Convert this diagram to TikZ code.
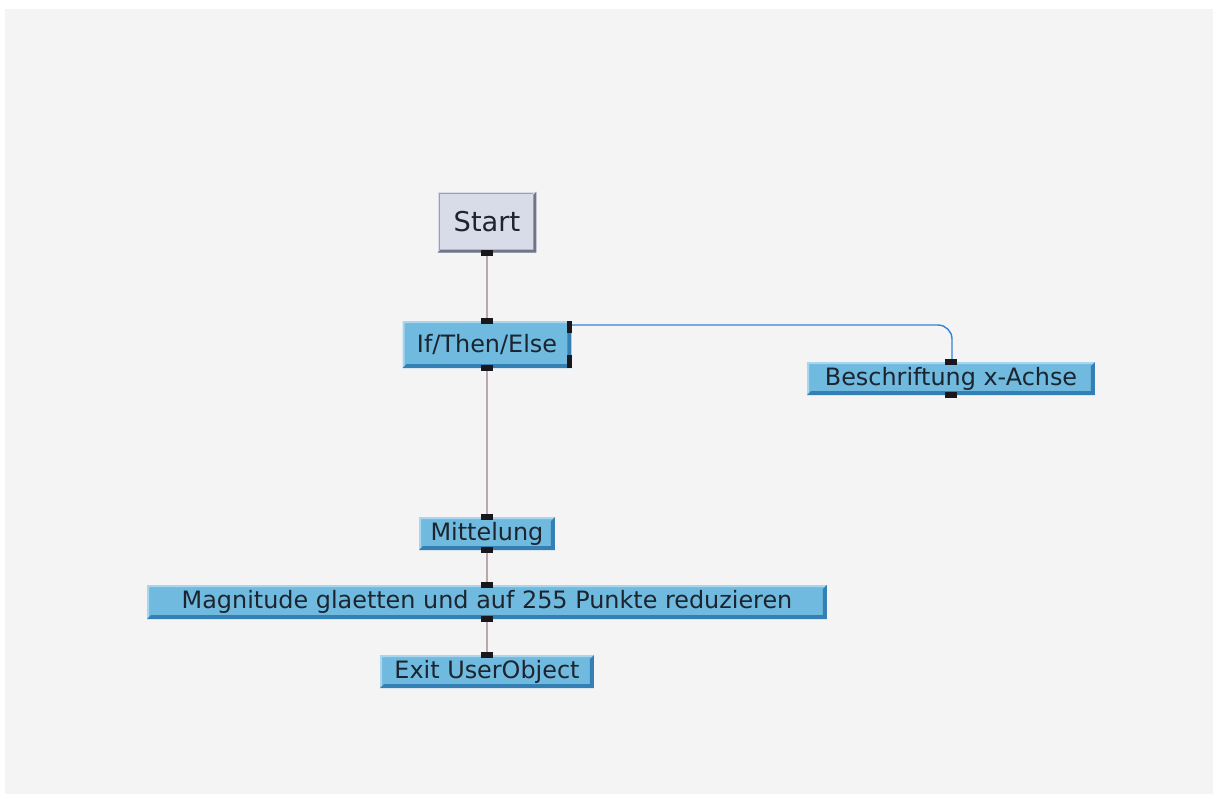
\documentclass[tikz,border=0pt]{standalone}
\usepackage{fontspec}
\usetikzlibrary{calc}
\newfontfamily\veefont{DejaVu Sans}

\definecolor{panelgray}{RGB}{244,244,245}
\definecolor{objblue}{RGB}{112,186,224}
\definecolor{objlite}{RGB}{168,214,238}
\definecolor{objdark}{RGB}{52,128,180}
\definecolor{startfill}{RGB}{216,220,232}
\definecolor{startrim}{RGB}{120,170,210}
\definecolor{startshade}{RGB}{112,118,136}
\definecolor{wirered}{RGB}{188,166,172}
\definecolor{wireblue}{RGB}{50,130,215}
\definecolor{pinblack}{RGB}{24,24,28}
\definecolor{labelink}{RGB}{28,36,46}

% 3D rim of an object box
\newcommand\bevel[1]{%
\fill[objlite] (#1.north west)--(#1.north east)--($(#1.north east)+(-2,2)$)--($(#1.north west)+(2,2)$)--($(#1.south west)+(2,-2)$)--(#1.south west)--cycle;
\fill[objdark] (#1.south west)--(#1.south east)--(#1.north east)--($(#1.north east)+(-4,4)$)--($(#1.south east)+(-4,-4)$)--($(#1.south west)+(4,-4)$)--cycle;}
% terminal pin
\newcommand\pin[1]{\fill[pinblack] ($(#1)+(-6,-3)$) rectangle ($(#1)+(6,3)$);}

\begin{document}
\begin{tikzpicture}[x=0.02cm,y=-0.02cm,
  every node/.style={font=\veefont\fontsize{13.6}{15}\selectfont,text=labelink,inner sep=0pt,outer sep=0pt},
  objbox/.style={fill=objblue,minimum height=0.66cm},
  wire/.style={wirered,line width=0.9pt},
  bluewire/.style={wireblue,line width=0.8pt,rounded corners=8}]
\useasboundingbox (0,0) rectangle (1213,796);
\fill[white] (0,0) rectangle (1213,796);
\fill[panelgray] (5,9) rectangle (1213,794);

% start button
\node[fill=startfill,minimum width=1.98cm,minimum height=1.22cm,font=\veefont\fontsize{15.5}{17}\selectfont] (start) at (487,222) {Start};
\fill[startshade] (start.south west)--(start.south east)--(start.north east)--($(start.north east)+(-3,3)$)--($(start.south east)+(-3,-3)$)--($(start.south west)+(3,-3)$)--cycle;
\draw[startrim,line width=0.6pt] ($(start.south west)+(2,-3)$)--($(start.north west)+(2,2)$)--($(start.north east)+(-3,2)$);

% object boxes
\node[objbox,minimum width=3.38cm,minimum height=0.94cm] (ite) at (487,344.5) {If/Then/Else};
\bevel{ite}
\node[objbox,minimum width=5.76cm] (besch) at (951,378.5) {Beschriftung x-Achse};
\bevel{besch}
\node[objbox,minimum width=2.72cm] (mittel) at (487,533.5) {Mittelung};
\bevel{mittel}
\node[objbox,minimum width=13.6cm,minimum height=0.68cm] (glatt) at (487,602) {Magnitude glaetten und auf 255 Punkte reduzieren};
\bevel{glatt}
\node[objbox,minimum width=4.28cm] (exit) at (487,671.5) {Exit UserObject};
\bevel{exit}

% connectors
\draw[wire] (start.south)--(ite.north);
\draw[wire] (ite.south)--(mittel.north);
\draw[wire] (mittel.south)--(glatt.north);
\draw[wire] (glatt.south)--(exit.north);
\coordinate (iteout) at ($(ite.north east)+(0,4)$);
\draw[bluewire] (iteout) -| ($(besch.north)+(1,0)$);

% pins
\pin{start.south}
\pin{ite.north} \pin{ite.south}
\pin{besch.north} \pin{besch.south}
\pin{mittel.north} \pin{mittel.south}
\pin{glatt.north} \pin{glatt.south}
\pin{exit.north}
\fill[pinblack] ($(ite.north east)+(-4,0)$) rectangle ($(ite.north east)+(1,12)$);
\fill[pinblack] ($(ite.south east)+(-4,-13)$) rectangle ($(ite.south east)+(1,0)$);
\end{tikzpicture}
\end{document}
